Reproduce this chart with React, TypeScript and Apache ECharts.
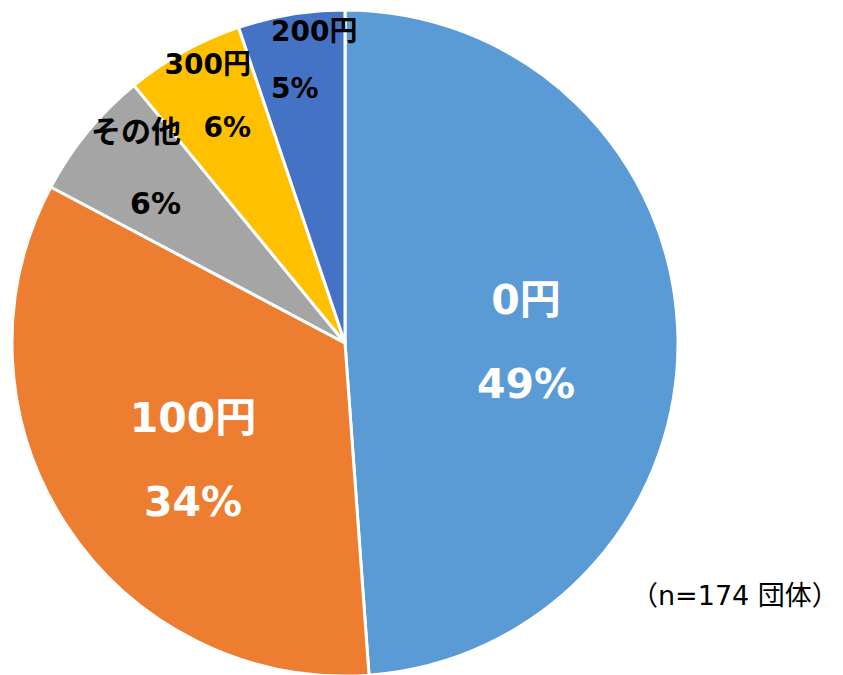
import React, { useEffect, useRef } from "react";
import * as echarts from "echarts";

const categories = ["0円", "100円", "その他", "300円", "200円"];
const counts = [85, 59, 11, 10, 9];
const colors = ["#5B9BD5", "#ED7D31", "#A5A5A5", "#FFC000", "#4472C4"];
const noteText = "（n=174 団体）";

// label placement (styles)
const labelPos = [
  { x: 526, y: 342, align: "center", lh: 84, size: 41, color: "#ffffff" },
  { x: 193, y: 460, align: "center", lh: 84, size: 41, color: "#ffffff" },
  { x: 181, y: 167, align: "right", lh: 72, size: 30, color: "#000000" },
  { x: 251, y: 96, align: "right", lh: 63, size: 28, color: "#000000" },
  { x: 271, y: 60, align: "left", lh: 57, size: 28, color: "#000000" },
];

const FONT = '"DejaVu Sans", "Noto Sans CJK JP", sans-serif';

export default function App() {
  const ref = useRef<HTMLDivElement>(null);
  useEffect(() => {
    if (!ref.current) return;
    const chart = echarts.init(ref.current, null, { renderer: "svg" });
    chart.setOption({
      animation: false,
      backgroundColor: "#ffffff",
      graphic: [
        {
          type: "text",
          left: 631,
          top: 582,
          style: {
            text: noteText,
            font: '27px "DejaVu Sans", "Noto Sans CJK JP", sans-serif',
            fill: "#000000",
          },
        },
      ],
      series: [
        {
          type: "pie",
          center: [345, 343],
          radius: [0, 333],
          startAngle: 90,
          clockwise: true,
          avoidLabelOverlap: false,
          itemStyle: { borderColor: "#ffffff", borderWidth: 3 },
          label: {
            show: true,
            position: "inside",
            fontFamily: FONT,
            fontWeight: "bold",
            verticalAlign: "middle",
            formatter: (p: any) => `${p.name}\n${Math.round(p.percent)}%`,
          },
          labelLine: { show: false },
          labelLayout: (p: any) => {
            const l = labelPos[p.dataIndex];
            return { x: l.x, y: l.y, align: l.align, verticalAlign: "middle" };
          },
          data: categories.map((c, i) => ({
            name: c,
            value: counts[i],
            itemStyle: { color: colors[i] },
            label: {
              align: labelPos[i].align,
              lineHeight: labelPos[i].lh,
              fontSize: labelPos[i].size,
              color: labelPos[i].color,
            },
          })),
        },
      ],
    });
    return () => chart.dispose();
  }, []);
  return (
    <div
      ref={ref}
      style={{ position: "fixed", left: 0, top: 0, width: 843, height: 675 }}
    />
  );
}
